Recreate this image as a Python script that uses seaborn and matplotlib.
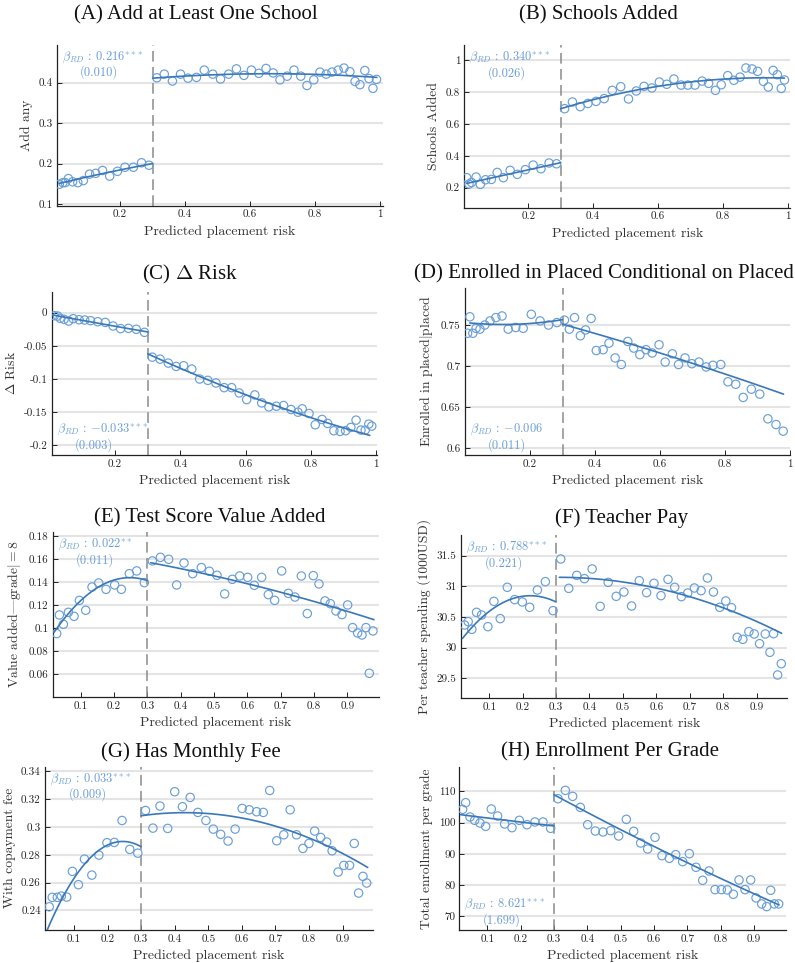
import numpy as np
import pandas as pd
import matplotlib
matplotlib.use("Agg")
import matplotlib.pyplot as plt
import seaborn as sns

# ---------------- data ----------------
# (A) Add at least one school
A_xl = [0.013,0.024,0.031,0.041,0.054,0.070,0.087,0.106,0.125,0.146,0.168,0.192,0.215,0.241,0.266,0.289]
A_yl = [0.149,0.153,0.153,0.163,0.155,0.153,0.158,0.174,0.176,0.183,0.169,0.181,0.191,0.191,0.202,0.196]
A_xr = [0.313,0.336,0.361,0.386,0.409,0.435,0.459,0.485,0.509,0.534,0.558,0.581,0.604,0.627,0.649,0.671,0.692,
        0.714,0.735,0.756,0.775,0.796,0.815,0.834,0.852,0.871,0.889,0.907,0.923,0.938,0.953,0.966,0.978,0.989]
A_yr = [0.412,0.421,0.404,0.421,0.411,0.413,0.431,0.421,0.409,0.421,0.434,0.418,0.431,0.423,0.435,0.424,0.407,
        0.416,0.431,0.416,0.393,0.407,0.426,0.421,0.426,0.431,0.436,0.427,0.403,0.395,0.430,0.410,0.386,0.408]
A_fit_l = ([0.013, 0.15, 0.30], [0.151, 0.176, 0.200])
A_fit_r = ([0.30, 0.65, 0.99], [0.411, 0.422, 0.413])

# (B) Schools added
B_xl = [0.010,0.017,0.025,0.039,0.052,0.068,0.086,0.104,0.123,0.144,0.166,0.191,0.215,0.239,0.264,0.287]
B_yl = [0.263,0.223,0.233,0.267,0.221,0.250,0.252,0.296,0.263,0.309,0.284,0.313,0.342,0.319,0.355,0.350]
B_xr = [0.312,0.336,0.360,0.384,0.409,0.434,0.459,0.485,0.509,0.533,0.557,0.581,0.604,0.627,0.649,0.671,0.692,
        0.714,0.736,0.756,0.777,0.795,0.815,0.834,0.853,0.871,0.890,0.907,0.925,0.940,0.955,0.968,0.980,0.990]
B_yr = [0.695,0.737,0.708,0.728,0.741,0.758,0.810,0.833,0.756,0.806,0.835,0.825,0.862,0.848,0.881,0.843,0.843,
        0.843,0.868,0.854,0.810,0.845,0.902,0.873,0.893,0.950,0.944,0.929,0.866,0.831,0.935,0.908,0.822,0.875]
B_fit_l = ([0.010, 0.155, 0.30], [0.227, 0.292, 0.357])
B_fit_r = ([0.30, 0.65, 0.99], [0.695, 0.850, 0.887])

# (C) Delta risk
C_xl = [0.014,0.024,0.032,0.044,0.058,0.072,0.090,0.107,0.125,0.147,0.170,0.194,0.217,0.241,0.265,0.290]
C_yl = [-0.0045,-0.005,-0.0085,-0.010,-0.0126,-0.009,-0.0106,-0.011,-0.012,-0.0136,-0.0146,-0.020,-0.024,
        -0.0236,-0.025,-0.0296]
C_xr = [0.314,0.338,0.363,0.387,0.410,0.435,0.459,0.484,0.509,0.534,0.557,0.580,0.603,0.628,0.649,0.671,0.694,
        0.716,0.739,0.760,0.773,0.794,0.813,0.834,0.851,0.870,0.889,0.906,0.922,0.938,0.953,0.966,0.977,0.986]
C_yr = [-0.067,-0.070,-0.076,-0.081,-0.080,-0.085,-0.100,-0.102,-0.106,-0.113,-0.113,-0.121,-0.131,-0.124,
        -0.136,-0.142,-0.141,-0.140,-0.146,-0.150,-0.145,-0.152,-0.169,-0.161,-0.167,-0.178,-0.179,-0.178,
        -0.173,-0.162,-0.177,-0.177,-0.168,-0.171]
C_fit_l = ([0.005, 0.15, 0.30], [-0.003, -0.016, -0.029])
C_fit_r = ([0.30, 0.64, 0.98], [-0.062, -0.131, -0.185])

# (D) Enrolled in placed conditional on placed
D_xl = [0.008,0.015,0.024,0.034,0.046,0.061,0.077,0.095,0.114,0.133,0.156,0.179,0.204,0.231,0.257,0.283]
D_yl = [0.740,0.760,0.740,0.746,0.745,0.750,0.755,0.759,0.761,0.745,0.747,0.746,0.763,0.755,0.750,0.753]
D_xr = [0.306,0.321,0.337,0.355,0.371,0.388,0.404,0.425,0.443,0.462,0.481,0.501,0.519,0.538,0.557,0.576,0.597,
        0.616,0.638,0.657,0.677,0.698,0.720,0.742,0.763,0.787,0.809,0.833,0.856,0.881,0.907,0.932,0.957,0.979]
D_yr = [0.756,0.745,0.759,0.737,0.744,0.758,0.719,0.720,0.728,0.710,0.702,0.730,0.722,0.714,0.720,0.716,0.726,
        0.705,0.715,0.702,0.710,0.703,0.705,0.699,0.701,0.702,0.681,0.678,0.662,0.672,0.666,0.636,0.629,0.621]
D_fit_l = ([0.015, 0.16, 0.30], [0.7525, 0.751, 0.7565])
D_fit_r = ([0.30, 0.64, 0.98], [0.751, 0.711, 0.666])

# (E) Test score value added
E_xl = [0.028,0.036,0.048,0.063,0.080,0.096,0.115,0.134,0.154,0.176,0.202,0.222,0.246,0.268,0.291]
E_yl = [0.0954,0.1116,0.1035,0.1139,0.1104,0.1243,0.1157,0.1359,0.1394,0.1339,0.1377,0.1339,0.1475,0.1499,0.1397]
E_xr = [0.315,0.339,0.364,0.388,0.410,0.436,0.462,0.486,0.509,0.532,0.555,0.577,0.601,0.621,0.643,0.663,0.682,
        0.703,0.723,0.743,0.762,0.780,0.798,0.815,0.833,0.849,0.866,0.884,0.901,0.916,0.931,0.944,0.956,0.966,0.977]
E_yr = [0.1586,0.1617,0.1600,0.1377,0.1568,0.1475,0.1528,0.1496,0.1461,0.1299,0.1426,0.1455,0.1443,0.1374,
        0.1443,0.1293,0.1243,0.1499,0.1304,0.1272,0.1455,0.1128,0.1458,0.1386,0.1238,0.1214,0.1151,0.1119,
        0.1203,0.1006,0.0959,0.0942,0.1006,0.0609,0.0977]
E_fit_l = ([0.02, 0.16, 0.30], [0.0965, 0.137, 0.1415])
E_fit_r = ([0.31, 0.645, 0.98], [0.157, 0.1355, 0.1075])

# (F) Teacher pay
F_xl = [0.026,0.037,0.048,0.062,0.077,0.096,0.114,0.133,0.154,0.176,0.199,0.221,0.244,0.268,0.291]
F_yl = [30.370,30.424,30.299,30.576,30.533,30.342,30.755,30.473,30.984,30.783,30.745,30.658,30.940,31.076,30.603]
F_xr = [0.314,0.338,0.362,0.385,0.408,0.432,0.456,0.480,0.503,0.526,0.549,0.571,0.593,0.614,0.635,0.655,0.675,
        0.694,0.714,0.734,0.753,0.771,0.790,0.808,0.825,0.842,0.859,0.877,0.893,0.909,0.926,0.940,0.951,0.963,0.974]
F_yr = [31.446,30.967,31.179,31.125,31.283,30.674,31.065,30.837,30.908,30.679,31.092,30.897,31.049,30.848,
        31.114,30.984,30.832,30.891,30.973,30.929,31.136,30.908,30.658,30.761,30.652,30.168,30.136,30.261,
        30.223,30.065,30.223,29.924,30.228,29.554,29.739]
F_fit_l = ([0.02, 0.16, 0.30], [30.15, 30.78, 30.745])
F_fit_r = ([0.31, 0.64, 0.975], [31.147, 30.92, 30.234])

# (G) Has monthly fee
G_xl = [0.026,0.035,0.050,0.062,0.078,0.095,0.113,0.131,0.153,0.174,0.198,0.220,0.243,0.266,0.290]
G_yl = [0.2426,0.2494,0.2494,0.2503,0.2496,0.2681,0.2585,0.2769,0.2654,0.2798,0.2887,0.2889,0.3047,0.2839,0.2812]
G_xr = [0.313,0.335,0.356,0.379,0.400,0.423,0.446,0.469,0.493,0.515,0.537,0.559,0.580,0.601,0.622,0.644,0.664,
        0.683,0.704,0.725,0.744,0.763,0.782,0.800,0.817,0.835,0.853,0.869,0.887,0.904,0.921,0.935,0.948,0.961,0.972]
G_yr = [0.3119,0.2992,0.3151,0.2990,0.3254,0.3146,0.3213,0.3105,0.3047,0.2985,0.2947,0.2899,0.2985,0.3134,
        0.3124,0.3110,0.3105,0.3263,0.2901,0.2944,0.3124,0.2944,0.2846,0.2882,0.2971,0.2925,0.2892,0.2829,
        0.2676,0.2724,0.2724,0.2882,0.2525,0.2645,0.2597]
G_fit_l = ([0.02, 0.16, 0.30], [0.2259, 0.2805, 0.2858])
G_fit_r = ([0.30, 0.6375, 0.975], [0.3081, 0.3046, 0.2709])

# (H) Enrollment per grade
H_xl = [0.026,0.035,0.048,0.062,0.078,0.095,0.112,0.131,0.152,0.174,0.196,0.219,0.243,0.267,0.290]
H_yl = [104.24,106.37,101.79,100.72,99.87,98.80,104.35,102.11,99.55,98.37,100.72,99.33,100.19,100.19,98.16]
H_xr = [0.312,0.334,0.356,0.379,0.401,0.424,0.447,0.470,0.494,0.517,0.539,0.560,0.581,0.603,0.624,0.646,0.665,
        0.686,0.706,0.726,0.746,0.765,0.783,0.802,0.820,0.838,0.855,0.873,0.890,0.906,0.923,0.938,0.950,0.961,0.974]
H_yr = [107.65,110.32,108.40,104.88,99.33,97.31,96.99,97.41,95.71,101.04,97.20,93.47,91.55,95.28,89.41,88.56,
        89.73,87.49,90.05,85.68,81.52,84.51,78.53,78.53,78.43,77.04,81.63,78.53,81.63,75.87,73.95,73.09,78.32,
        73.95,73.95]
H_fit_l = ([0.02, 0.16, 0.30], [102.53, 100.7, 98.91])
H_fit_r = ([0.30, 0.6375, 0.975], [108.93, 90.4, 73.63])

TITLES = ["(A) Add at Least One School", "(B) Schools Added", "(C) $\\Delta$ Risk",
          "(D) Enrolled in Placed Conditional on Placed", "(E) Test Score Value Added",
          "(F) Teacher Pay", "(G) Has Monthly Fee", "(H) Enrollment Per Grade"]
# note: in the cmr10 font an ASCII "|" draws an em dash, so "$|$" is used for the bar
YLABELS = ["Add any", "Schools Added", "$\\Delta$ Risk", "Enrolled in placed$|$placed",
           "Value added|grade$|{=}$8", "Per teacher spending (1000USD)", "With copayment fee",
           "Total enrollment per grade"]
BETAS = ["0.216$^{***}$", "0.340$^{***}$", "$-$0.033$^{***}$", "$-$0.006",
         "0.022$^{**}$", "0.788$^{***}$", "0.033$^{***}$", "8.621$^{***}$"]
SES = ["(0.010)", "(0.026)", "(0.003)", "(0.011)", "(0.011)", "(0.221)", "(0.009)", "(1.699)"]
BETA_TOP = [True, True, False, False, True, True, True, False]
YTICKS = [[0.1, 0.2, 0.3, 0.4], [0.2, 0.4, 0.6, 0.8, 1.0], [0, -0.05, -0.1, -0.15, -0.2],
          [0.6, 0.65, 0.7, 0.75], [0.06, 0.08, 0.1, 0.12, 0.14, 0.16, 0.18],
          [29.5, 30, 30.5, 31, 31.5], [0.24, 0.26, 0.28, 0.3, 0.32, 0.34], [70, 80, 90, 100, 110]]
YTICKLABELS = [["0.1", "0.2", "0.3", "0.4"], ["0.2", "0.4", "0.6", "0.8", "1"],
               ["0", "-0.05", "-0.1", "-0.15", "-0.2"], ["0.6", "0.65", "0.7", "0.75"],
               ["0.06", "0.08", "0.1", "0.12", "0.14", "0.16", "0.18"],
               ["29.5", "30", "30.5", "31", "31.5"], ["0.24", "0.26", "0.28", "0.3", "0.32", "0.34"],
               ["70", "80", "90", "100", "110"]]
XTICKS_1 = [0.2, 0.4, 0.6, 0.8, 1.0]
XTICKLABELS_1 = ["0.2", "0.4", "0.6", "0.8", "1"]
XTICKS_2 = [0.1, 0.2, 0.3, 0.4, 0.5, 0.6, 0.7, 0.8, 0.9]
XTICKLABELS_2 = ["0.1", "0.2", "0.3", "0.4", "0.5", "0.6", "0.7", "0.8", "0.9"]
XLABEL = "Predicted placement risk"
CUTOFF = 0.3

# ---------------- style ----------------
sns.set_theme(style="white")
plt.rcParams["font.family"] = ["cmr10", "DejaVu Serif"]
plt.rcParams["mathtext.fontset"] = "cm"
plt.rcParams["axes.unicode_minus"] = False
plt.rcParams["axes.formatter.use_mathtext"] = True

PT = "#6a9fd6"
LN = "#3a78b8"
TXT = "#6a9fd6"

W, H = 795, 963
fig = plt.figure(figsize=(W / 100, H / 100), dpi=100)
fig.patch.set_facecolor("white")

# axes boxes in pixels: left, right, top, bottom
BOXES = [(56.7, 382.7, 45, 205.7), (464.3, 790, 45, 207.7),
         (51.7, 377.3, 291.7, 455), (465, 790, 288, 455),
         (52.7, 379.3, 531.7, 697.3), (461, 787.3, 535, 698.3),
         (45, 372.7, 766.7, 930), (459.3, 785.7, 766.7, 930)]
XLIMS = [(0.005, 1.008), (0.0026, 1.007), (0.006, 1.003), (0.0, 1.0),
         (0.016, 0.996), (0.0155, 0.992), (0.0134, 0.99), (0.016, 0.995)]
YLIMS = [(0.096, 0.493), (0.075, 1.094), (-0.2146, 0.0317), (0.592, 0.795),
         (0.04, 0.184), (29.174, 31.837), (0.2259, 0.3434), (65.6, 117.9)]
TITLE_POS = [(196, 15), (598, 15), (190, 274), (604, 274),
             (210, 518), (622, 518), (191, 752), (610, 752)]

DATA = [(A_xl, A_yl, A_xr, A_yr, A_fit_l, A_fit_r),
        (B_xl, B_yl, B_xr, B_yr, B_fit_l, B_fit_r),
        (C_xl, C_yl, C_xr, C_yr, C_fit_l, C_fit_r),
        (D_xl, D_yl, D_xr, D_yr, D_fit_l, D_fit_r),
        (E_xl, E_yl, E_xr, E_yr, E_fit_l, E_fit_r),
        (F_xl, F_yl, F_xr, F_yr, F_fit_l, F_fit_r),
        (G_xl, G_yl, G_xr, G_yr, G_fit_l, G_fit_r),
        (H_xl, H_yl, H_xr, H_yr, H_fit_l, H_fit_r)]


def fit_curve(fit):
    fx, fy = fit
    coef = np.polyfit(fx, fy, 2)
    xx = np.linspace(fx[0], fx[-1], 120)
    return xx, np.polyval(coef, xx)


for i, (xl, yl, xr, yr, fl, fr) in enumerate(DATA):
    l, r, t, b = BOXES[i]
    ax = fig.add_axes([l / W, 1 - b / H, (r - l) / W, (b - t) / H])
    ax.set_facecolor("white")
    for yt in YTICKS[i]:
        ax.axhline(yt, color="#e4e4e4", lw=1.5, zorder=0)
    ax.axvline(CUTOFF, color="#8a8a8a", lw=1.1, dashes=(7, 3.5), zorder=1)

    df = pd.DataFrame({"x": list(xl) + list(xr), "y": list(yl) + list(yr)})
    sns.scatterplot(data=df, x="x", y="y", ax=ax, s=36, color=PT,
                    facecolor="none", edgecolor=PT, linewidth=0.85, zorder=3)
    for fit in (fl, fr):
        xx, yy = fit_curve(fit)
        sns.lineplot(x=xx, y=yy, ax=ax, color=LN, lw=1.2, zorder=4, sort=False)

    ax.set_xlim(*XLIMS[i])
    ax.set_ylim(*YLIMS[i])
    if i < 4:
        ax.set_xticks(XTICKS_1)
        ax.set_xticklabels(XTICKLABELS_1)
    else:
        ax.set_xticks(XTICKS_2)
        ax.set_xticklabels(XTICKLABELS_2)
    ax.set_yticks(YTICKS[i])
    ax.set_yticklabels(YTICKLABELS[i])
    ax.tick_params(axis="both", direction="in", length=3.5, width=0.7, labelsize=8,
                   colors="#222222", pad=3, bottom=True, left=True)
    for s in ("top", "right"):
        ax.spines[s].set_visible(False)
    for s in ("left", "bottom"):
        ax.spines[s].set_color("#222222")
        ax.spines[s].set_linewidth(0.9)
    ax.grid(False)
    ax.set_xlabel(XLABEL, fontsize=10, color="#333333", labelpad=4)
    ax.set_ylabel(YLABELS[i], fontsize=9.8, color="#333333", labelpad=4)

    if BETA_TOP[i]:
        y1, y2 = 0.925, 0.83
    else:
        y1, y2 = 0.155, 0.06
    ax.text(0.015, y1, "$\\beta_{RD}$ : " + BETAS[i], transform=ax.transAxes,
            ha="left", va="center", fontsize=9, color=TXT, zorder=5)
    ax.text(0.13, y2, SES[i], transform=ax.transAxes, ha="center", va="center",
            fontsize=9, color=TXT, zorder=5)

    tx, ty = TITLE_POS[i]
    fig.text(tx / W, 1 - ty / H, TITLES[i], ha="center", va="center", fontsize=15,
             family=["Liberation Serif", "DejaVu Serif"], color="#111111")

fig.savefig("out.png", dpi=100, facecolor="white")
